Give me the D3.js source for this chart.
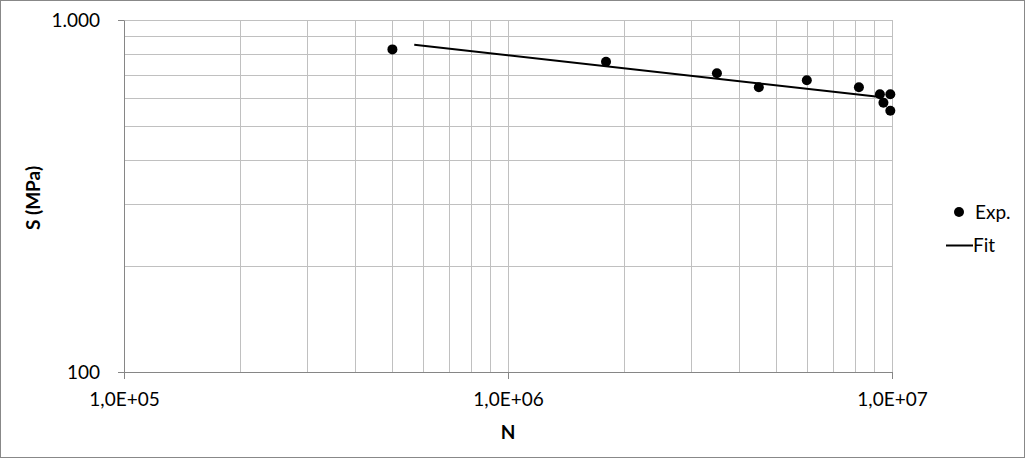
<!DOCTYPE html>
<meta charset="utf-8">
<html>
<head>
<script src="https://d3js.org/d3.v7.min.js"></script>
<style>
  html, body { margin: 0; padding: 0; background: #fff; }
  text { font-family: Lato, "Open Sans", sans-serif; fill: #000; }
  .grid line { stroke: #c0c0c0; stroke-width: 1; }
  .axis path, .axis line { stroke: #868686; }
  .title { font-weight: bold; }
</style>
</head>
<body>
<div id="chart"></div>
<script>
// experimental points (N cycles, S in MPa)
var expN = [5.0e5, 1.8e6, 3.5e6, 4.5e6, 6.0e6, 8.2e6, 9.3e6, 9.5e6, 9.9e6, 9.9e6];
var expS = [825, 761, 706, 644, 674, 644, 615, 582, 615, 552];

// fitted curve end points
var fitN = [5.7e5, 9.2e6];
var fitS = [851, 605];

var xTicks = [1e5, 1e6, 1e7];
var xTickLabels = ["1,0E+05", "1,0E+06", "1,0E+07"];
var yTicks = [100, 1000];
var yTickLabels = ["100", "1.000"];

var W = 1026, H = 459;
var margin = {top: 20, right: 134, bottom: 87, left: 124};
var width = W - margin.left - margin.right,   // 768
    height = H - margin.top - margin.bottom;  // 352

var svg = d3.select("#chart").append("svg")
    .attr("width", W)
    .attr("height", H);

// chart frame
svg.append("rect")
    .attr("x", 0.5).attr("y", 0.5)
    .attr("width", W - 2).attr("height", H - 2)
    .attr("fill", "#fff")
    .attr("stroke", "#888");

var g = svg.append("g")
    .attr("transform", "translate(" + margin.left + "," + margin.top + ")");

var x = d3.scaleLog().domain([1e5, 1e7]).range([0, width]);
var y = d3.scaleLog().domain([100, 1000]).range([height, 0]);

// grid lines, one per 1..9 step of each decade
var xGrid = [], yGrid = [];
[1e5, 1e6].forEach(function(d) {
  for (var k = 1; k <= 9; k++) xGrid.push(d * k);
});
xGrid.push(1e7);
for (var k = 2; k <= 10; k++) yGrid.push(100 * k);

g.append("g").attr("class", "grid")
  .selectAll("line").data(xGrid).enter().append("line")
    .attr("x1", function(d) { return Math.round(x(d)) + 0.5; })
    .attr("x2", function(d) { return Math.round(x(d)) + 0.5; })
    .attr("y1", 0).attr("y2", height);

g.append("g").attr("class", "grid")
  .selectAll("line").data(yGrid).enter().append("line")
    .attr("y1", function(d) { return Math.round(y(d)) + 0.5; })
    .attr("y2", function(d) { return Math.round(y(d)) + 0.5; })
    .attr("x1", 0).attr("x2", width);

// axes
g.append("g")
    .attr("class", "axis")
    .attr("transform", "translate(0," + height + ")")
    .call(d3.axisBottom(x).tickValues(xTicks).tickSize(7).tickSizeOuter(0)
      .tickFormat(function(d, i) { return xTickLabels[i]; }))
    .call(function(a) {
      a.selectAll("text").attr("dy", "1.25em").style("font-size", "19px")
        .style("font-family", "Lato, sans-serif");
    });

g.append("g")
    .attr("class", "axis")
    .call(d3.axisLeft(y).tickValues(yTicks).tickSize(6).tickSizeOuter(0)
      .tickFormat(function(d, i) { return yTickLabels[i]; }))
    .call(function(a) {
      a.selectAll("text").attr("x", -24).style("font-size", "19px")
        .style("font-family", "Lato, sans-serif");
    });

// fit line
var line = d3.line()
    .x(function(d) { return x(d[0]); })
    .y(function(d) { return y(d[1]); });

g.append("path")
    .datum(d3.zip(fitN, fitS))
    .attr("fill", "none")
    .attr("stroke", "#000")
    .attr("stroke-width", 2)
    .attr("d", line);

// experimental points
g.selectAll(".dot")
    .data(d3.zip(expN, expS))
  .enter().append("circle")
    .attr("class", "dot")
    .attr("cx", function(d) { return x(d[0]); })
    .attr("cy", function(d) { return y(d[1]); })
    .attr("r", 5)
    .attr("fill", "#000");

// axis titles
svg.append("text")
    .attr("class", "title")
    .attr("x", margin.left + width / 2)
    .attr("y", 439)
    .attr("text-anchor", "middle")
    .style("font-size", "19px")
    .text("N");

svg.append("text")
    .attr("class", "title")
    .attr("transform", "translate(40,198) rotate(-90)")
    .attr("text-anchor", "middle")
    .style("font-size", "19px")
    .text("S (MPa)");

// legend
var legend = svg.append("g");
legend.append("circle")
    .attr("cx", 959).attr("cy", 212).attr("r", 5).attr("fill", "#000");
legend.append("text")
    .attr("x", 975).attr("y", 219)
    .style("font-size", "19px")
    .text("Exp.");
legend.append("line")
    .attr("x1", 946).attr("x2", 973)
    .attr("y1", 245.5).attr("y2", 245.5)
    .attr("stroke", "#000").attr("stroke-width", 2);
legend.append("text")
    .attr("x", 973).attr("y", 252)
    .style("font-size", "19px")
    .text("Fit");
</script>
</body>
</html>
